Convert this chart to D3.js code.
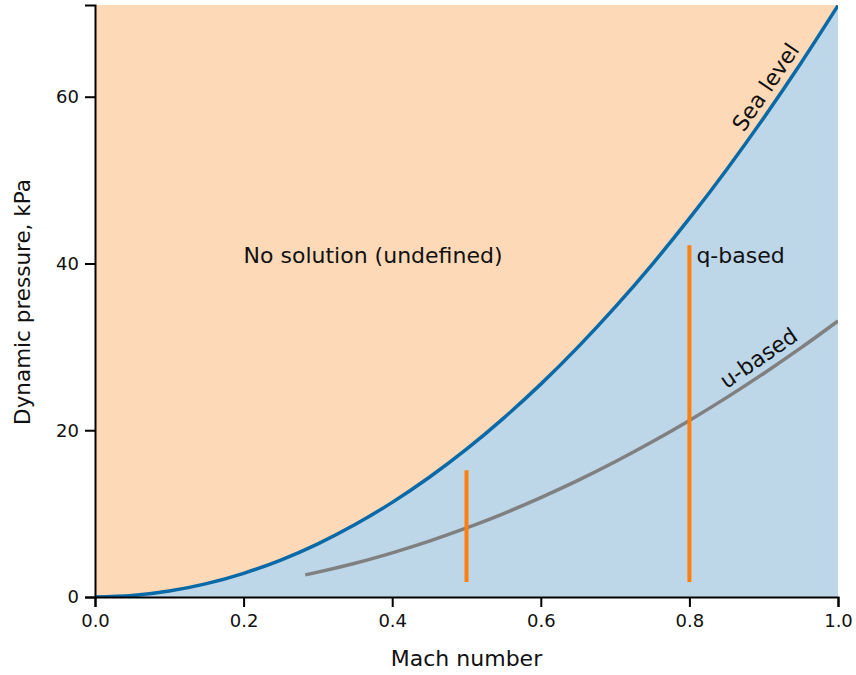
<!DOCTYPE html>
<html>
<head>
<meta charset="utf-8">
<script src="https://cdn.jsdelivr.net/npm/d3@7"></script>
<style>
  html, body { margin: 0; padding: 0; background: #ffffff; }
  svg { display: block; }
  text { font-family: "DejaVu Sans", sans-serif; fill: #111; }
</style>
</head>
<body>
<svg id="chart" width="856" height="675"></svg>
<script>
// Mach grid shared by the sea-level curve
const seaMach = [0, 0.05, 0.1, 0.15, 0.2, 0.25, 0.3, 0.35, 0.4, 0.45, 0.5,
                 0.55, 0.6, 0.65, 0.7, 0.75, 0.8, 0.85, 0.9, 0.95, 1.0];
// Dynamic pressure at sea level, kPa
const seaQ = [0, 0.18, 0.71, 1.60, 2.84, 4.43, 6.38, 8.69, 11.35, 14.36, 17.73,
              21.46, 25.53, 29.97, 34.76, 39.90, 45.40, 51.25, 57.46, 64.02, 70.93];

// u-based curve, kPa
const uMach = [0.283, 0.3, 0.35, 0.4, 0.45, 0.5, 0.55, 0.6, 0.65, 0.7, 0.75,
               0.8, 0.85, 0.9, 0.95, 1.0];
const uQ = [2.65, 2.98, 4.05, 5.30, 6.70, 8.28, 10.01, 11.92, 13.98, 16.22, 18.62,
            21.18, 23.91, 26.81, 29.87, 33.10];

// q-based vertical ranges
const barMach = [0.5, 0.8];
const barLow = [1.8, 1.8];
const barHigh = [15.2, 42.2];

const xTicks = [0.0, 0.2, 0.4, 0.6, 0.8, 1.0];
const yTicks = [0, 20, 40, 60];

const margin = { left: 95, right: 18, top: 5, bottom: 78 };
const W = 856, H = 675;
const iw = W - margin.left - margin.right;
const ih = H - margin.top - margin.bottom;
const labelSize = 22;

const svg = d3.select("#chart");
const g = svg.append("g").attr("transform", `translate(${margin.left},${margin.top})`);

const x = d3.scaleLinear().domain([0, 1]).range([0, iw]);
const y = d3.scaleLinear().domain([0, 71]).range([ih, 0]);

g.append("clipPath").attr("id", "plotclip")
  .append("rect").attr("width", iw).attr("height", ih);

const plot = g.append("g").attr("clip-path", "url(#plotclip)");

// "No solution" region above the curve
plot.append("rect").attr("width", iw).attr("height", ih).attr("fill", "#fed9b7");

const sea = seaMach.map((m, i) => [m, seaQ[i]]);
const ub = uMach.map((m, i) => [m, uQ[i]]);

// Feasible region under the sea-level curve
plot.append("path")
  .datum(sea)
  .attr("fill", "#bdd6e8")
  .attr("d", d3.area().curve(d3.curveMonotoneX)
    .x(d => x(d[0])).y0(y(0)).y1(d => y(d[1])));

plot.append("path")
  .datum(ub)
  .attr("fill", "none")
  .attr("stroke", "#808080")
  .attr("stroke-width", 3.5)
  .attr("d", d3.line().curve(d3.curveMonotoneX).x(d => x(d[0])).y(d => y(d[1])));

plot.selectAll("line.bar")
  .data(barMach)
  .join("line")
  .attr("class", "bar")
  .attr("x1", d => x(d)).attr("x2", d => x(d))
  .attr("y1", (d, i) => y(barLow[i])).attr("y2", (d, i) => y(barHigh[i]))
  .attr("stroke", "#ff7f0e")
  .attr("stroke-width", 4);

plot.append("path")
  .datum(sea)
  .attr("fill", "none")
  .attr("stroke", "#0a6aa8")
  .attr("stroke-width", 3.5)
  .attr("d", d3.line().curve(d3.curveMonotoneX).x(d => x(d[0])).y(d => y(d[1])));

// Axes: left and bottom spines only
const xAxis = g.append("g").attr("transform", `translate(0,${ih})`)
  .call(d3.axisBottom(x).tickValues(xTicks).tickFormat(d3.format(".1f")).tickSize(10).tickPadding(7));
const yAxis = g.append("g")
  .call(d3.axisLeft(y).tickValues(yTicks).tickFormat(d3.format("d")).tickSize(10).tickPadding(6));

[xAxis, yAxis].forEach(a => {
  a.select(".domain").attr("stroke", "#000").attr("stroke-width", 2);
  a.selectAll(".tick line").attr("stroke", "#000").attr("stroke-width", 2);
  a.selectAll(".tick text").attr("font-family", "'DejaVu Sans', sans-serif").attr("font-size", 18).attr("fill", "#111");
});

g.append("text")
  .attr("x", iw / 2).attr("y", 661)
  .attr("text-anchor", "middle").attr("font-size", labelSize)
  .text("Mach number");

g.append("text")
  .attr("transform", `translate(${-65},${ih / 2 + 1}) rotate(-90)`)
  .attr("text-anchor", "middle").attr("font-size", 21.5)
  .text("Dynamic pressure, kPa");

// Annotation labels
g.append("text")
  .attr("x", x(0.2)).attr("y", y(41))
  .attr("dominant-baseline", "central").attr("font-size", labelSize)
  .text("No solution (undefined)");

g.append("text")
  .attr("x", x(0.8) + 7).attr("y", y(41))
  .attr("dominant-baseline", "central").attr("font-size", labelSize)
  .text("q-based");

// Curve labels rotated to follow the local slope
function curveLabel(pts, m, txt, offset) {
  const i = d3.bisector(d => d[0]).left(pts, m);
  const a = pts[Math.max(0, i - 1)], b = pts[Math.min(pts.length - 1, i)];
  const t = (m - a[0]) / (b[0] - a[0] || 1);
  const q = a[1] + t * (b[1] - a[1]);
  const dx = x(b[0]) - x(a[0]), dy = y(b[1]) - y(a[1]);
  const ang = Math.atan2(dy, dx) * 180 / Math.PI;
  g.append("text")
    .attr("transform", `translate(${x(m)},${y(q)}) rotate(${ang})`)
    .attr("text-anchor", "middle")
    .attr("dy", offset)
    .attr("font-size", labelSize)
    .text(txt);
}
curveLabel(sea, 0.92, "Sea level", -8);
curveLabel(ub, 0.905, "u-based", -8);
</script>
</body>
</html>
